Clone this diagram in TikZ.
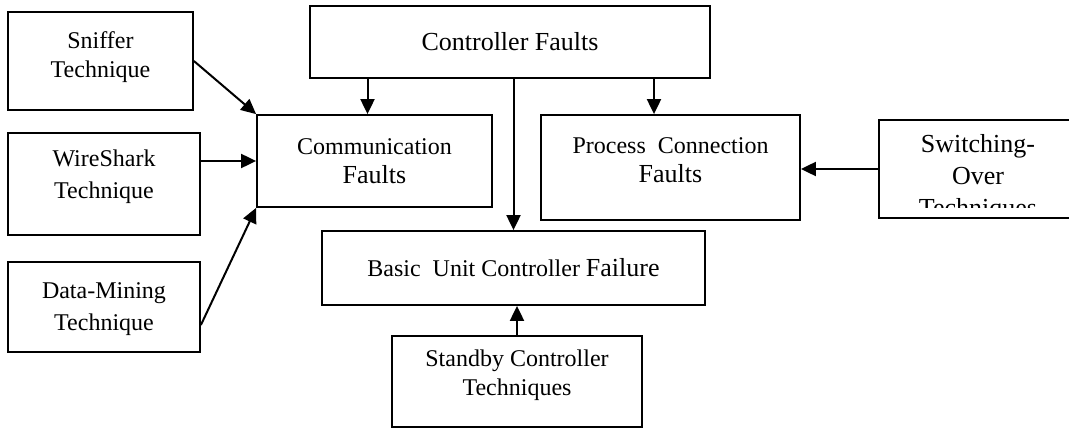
\documentclass[tikz,border=0pt]{standalone}
\usepackage{fontspec}
\setmainfont{Liberation Serif}
\usetikzlibrary{arrows.meta}
\newcommand{\upsz}{\fontsize{26}{29}\selectfont}
\tikzset{
  blk/.style={draw,line width=1.8pt,inner sep=0pt,align=center,
    font=\fontsize{24}{29}\selectfont},
  lbl/.style={inner sep=0pt,align=center,font=\fontsize{26}{32}\selectfont},
  arr/.style={-{Triangle[length=15pt,width=14pt]},line width=2pt},
}

\begin{document}
\begin{tikzpicture}[x=1pt,y=-1pt]
  \useasboundingbox (0,0) rectangle (1069,428);
  \clip (0,0) rectangle (1069,428);
  % technique boxes on the left
  \node[blk,minimum width=185,minimum height=98,text depth=13pt] (sniff) at (100.5,61) {Sniffer\\Technique};
  \node[blk,minimum width=192,minimum height=102,text depth=19pt,
    font=\fontsize{24}{32}\selectfont] (wire) at (104,184) {WireShark\\Technique};
  \node[blk,minimum width=192,minimum height=90,text depth=0pt,
    font=\fontsize{24}{32}\selectfont] (mine) at (104,307) {Data-Mining\\Technique};
  % fault boxes
  \node[blk,minimum width=400,minimum height=72,font=\upsz] (ctrl) at (510,42) {Controller Faults};
  \node[blk,minimum width=235,minimum height=92] (comm) at (374.5,161) {Communication\\{\upsz Faults}};
  \node[blk,minimum width=259,minimum height=105,text depth=15pt] (proc) at (670.5,167.5)
    {Process~ Connection\\{\upsz Faults}};
  \node[blk,minimum width=383,minimum height=74] (basic) at (513.5,268)
    {Basic~ Unit Controller {\upsz Failure}};
  \node[blk,minimum width=250,minimum height=91,text depth=17pt] (stand) at (517,381.5)
    {Standby Controller\\Techniques};
  % switching box, text runs out of it
  \node[blk,minimum width=201,minimum height=98] (sw) at (979.5,169) {};
  \begin{scope}
    \clip (sw.north west) rectangle ([yshift=11pt]sw.south east);
    \node[lbl] (swtxt) at (978,178.5) {Switching-\\Over\\Techniques};
  \end{scope}
  % connectors
  \coordinate (tapc) at ([xshift=-7pt]comm.north);
  \coordinate (tapp) at ([xshift=-16.5pt]proc.north);
  \draw[arr] (sniff.east) -- (comm.north west);
  \draw[arr] (wire.east |- comm.west) -- (comm.west);
  \draw[arr] ([yshift=-18pt]mine.east) -- (comm.south west);
  \draw[arr] (ctrl.south -| tapc) -- (tapc);
  \draw[arr] (ctrl.south -| tapp) -- (tapp);
  \draw[arr] (ctrl.south -| basic.north) -- (basic.north);
  \draw[arr] (stand.north) -- (basic.south -| stand.north);
  \draw[arr] (sw.west) -- (proc.east |- sw.west);
\end{tikzpicture}
\end{document}
